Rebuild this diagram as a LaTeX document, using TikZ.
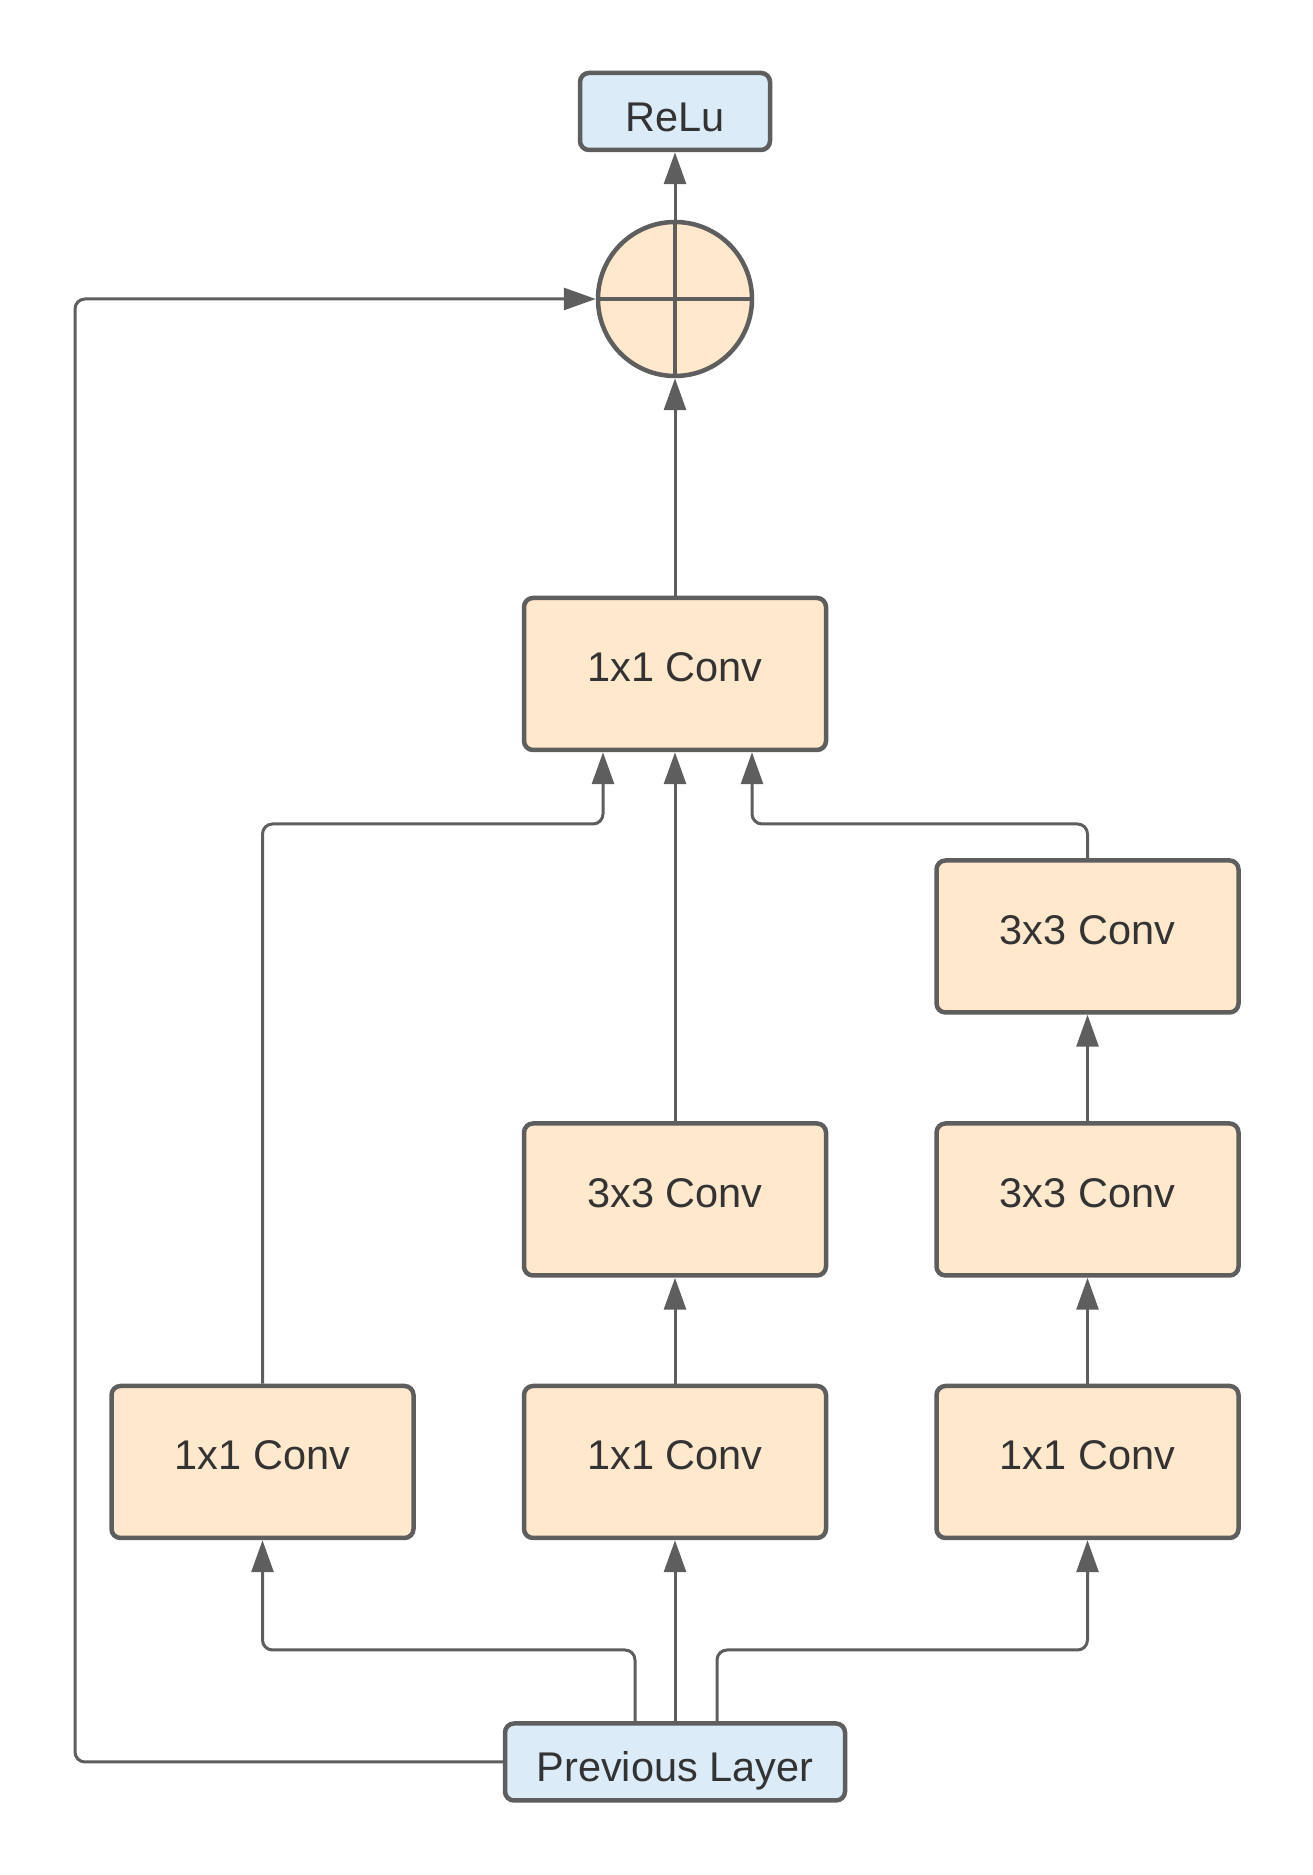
\documentclass[tikz,border=0pt]{standalone}
\usepackage{fontspec}
\setmainfont{Liberation Sans}
\usepackage{tikz}
\usetikzlibrary{arrows.meta, positioning}

\definecolor{boxfill}{HTML}{FFE8CC}
\definecolor{endfill}{HTML}{DBEBF8}
\definecolor{edge}{HTML}{5E5E5E}
\definecolor{ink}{HTML}{333333}

\begin{document}
\begin{tikzpicture}[x=1pt, y=1pt,
        font=\fontsize{41.5}{50}\selectfont]
        % Setup the styles for blocks and connectors
        \tikzset{conv/.style={draw=edge,
                              line width=4.5pt,
                              rounded corners=9pt,
                              fill=boxfill,
                              text=ink,
                              text height=30pt,
                              text depth=14pt,
                              minimum width=302pt,
                              minimum height=152pt},
                 ends/.style={conv,
                              fill=endfill,
                              text height=40pt,
                              text depth=0pt,
                              minimum height=77pt},
                 conn/.style={draw=edge,
                              line width=3pt,
                              rounded corners=10pt,
                              -{Triangle[length=32pt,width=22pt]}}}

        \useasboundingbox (0,0) rectangle (1313,1875);

        % Draw the blocks
        \node[ends, minimum width=190pt] at (675, 1763.5) (relu) {ReLu};
        \node[circle, draw=edge, line width=4.5pt, fill=boxfill,
              minimum size=154pt] at (675, 1576) (sum) {};
        \draw[edge, line width=4.5pt] (sum.north) -- (sum.south)
                                      (sum.west) -- (sum.east);
        \node[conv] at (675, 1201)    (merge) {1x1 Conv};
        \node[conv] at (1087.5, 938.5) (rtop)  {3x3 Conv};
        \node[conv] at (675, 675.5)   (mmid)  {3x3 Conv};
        \node[conv] at (1087.5, 675.5) (rmid) {3x3 Conv};
        \node[conv] at (262.5, 413)   (lbot)  {1x1 Conv};
        \node[conv] at (675, 413)     (mbot)  {1x1 Conv};
        \node[conv] at (1087.5, 413)  (rbot)  {1x1 Conv};
        \node[ends, minimum width=340pt] at (675, 113) (prev) {Previous Layer};

        % Bend points
        \coordinate (splitl) at (635, 225);
        \coordinate (splitr) at (717, 225);
        \coordinate (joinl)  at (603, 1051);
        \coordinate (joinr)  at (752, 1051);
        \coordinate (skip)   at (75, 113);

        % Connect the blocks
        \draw[conn] (prev.north -| splitl) -- (splitl) -| (lbot);
        \draw[conn] (prev) -- (mbot);
        \draw[conn] (prev.north -| splitr) -- (splitr) -| (rbot);
        \draw[conn] (mbot) -- (mmid);
        \draw[conn] (rbot) -- (rmid);
        \draw[conn] (rmid) -- (rtop);
        \draw[conn] (lbot) |- (joinl) -- (joinl |- merge.south);
        \draw[conn] (mmid) -- (merge);
        \draw[conn] (rtop) |- (joinr) -- (joinr |- merge.south);
        \draw[conn] (merge) -- (sum);
        \draw[conn] (sum) -- (relu);
        \draw[conn] (prev.west) -- (skip) |- (sum.west);
\end{tikzpicture}
\end{document}
